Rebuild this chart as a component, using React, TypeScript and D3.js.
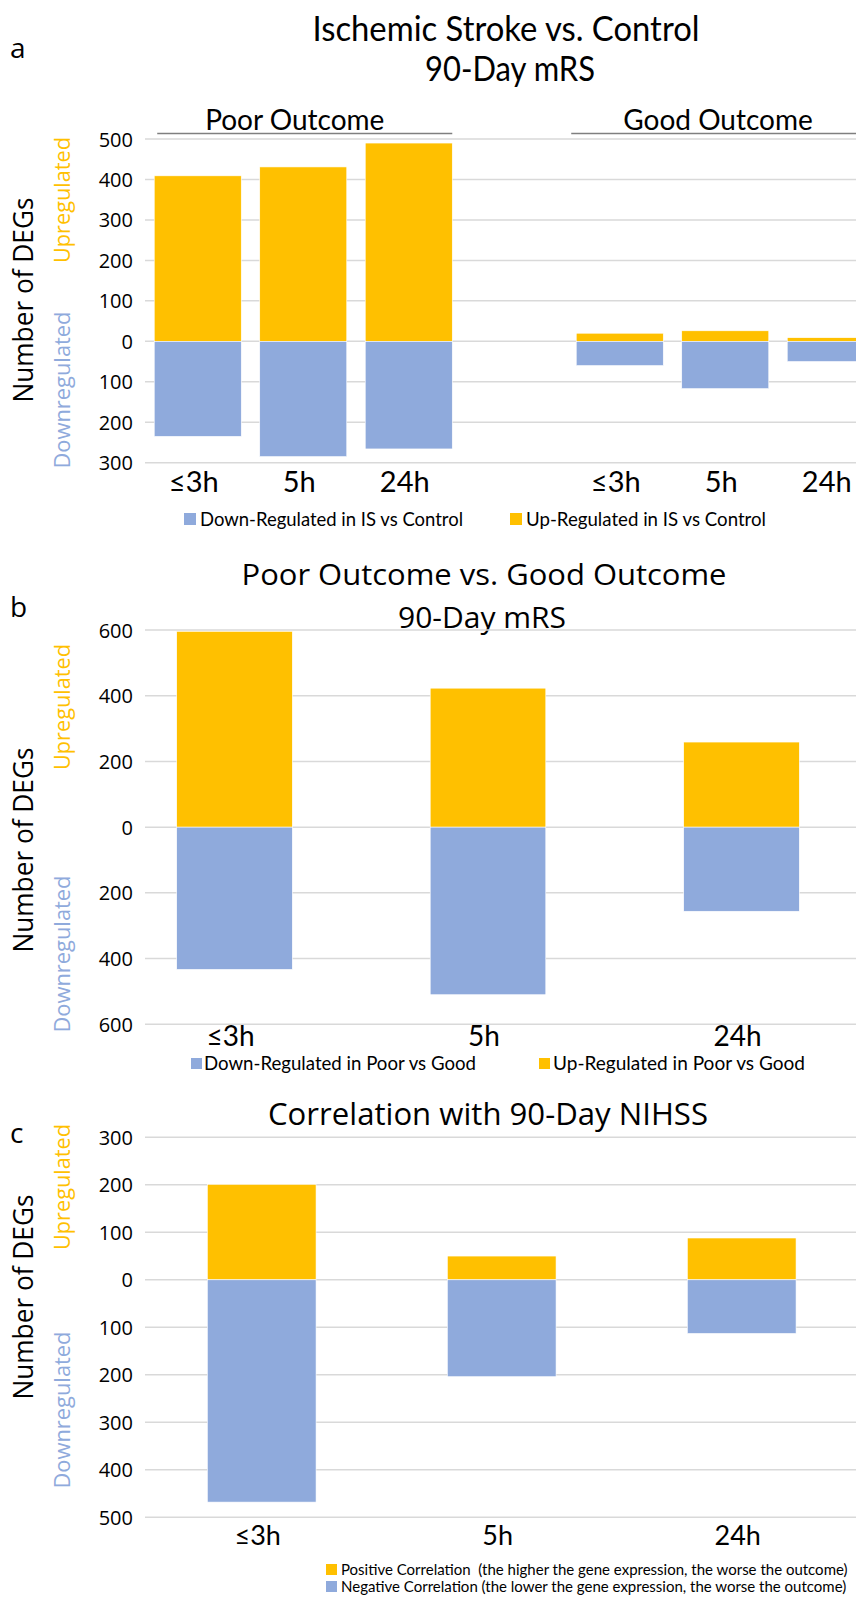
import React from "react";
import * as d3 from "d3";

// ---------- data ----------
const timepoints = ["≤3h", "5h", "24h"];
const aGroups = ["Poor Outcome", "Good Outcome"];
const aPoorUp = [409, 431, 490];
const aPoorDown = [235, 285, 266];
const aGoodUp = [20, 26, 9];
const aGoodDown = [60, 117, 50];
const aTicks = [-300, -200, -100, 0, 100, 200, 300, 400, 500];

const bUp = [596, 423, 259];
const bDown = [433, 510, 256];
const bTicks = [-600, -400, -200, 0, 200, 400, 600];

const cUp = [201, 50, 88];
const cDown = [468, 204, 113];
const cTicks = [-500, -400, -300, -200, -100, 0, 100, 200, 300];

const titleA = ["Ischemic Stroke vs. Control", "90-Day mRS"];
const titleB = ["Poor Outcome vs. Good Outcome", "90-Day mRS"];
const titleC = ["Correlation with 90-Day NIHSS"];
const legendA = ["Down-Regulated in IS vs Control", "Up-Regulated in IS vs Control"];
const legendB = ["Down-Regulated in Poor vs Good", "Up-Regulated in Poor vs Good"];
const legendC = [
  "Positive Correlation\u00A0 (the higher the gene expression, the worse the outcome)",
  "Negative Correlation (the lower the gene expression, the worse the outcome)",
];

// ---------- style ----------
const UP = "#FFC000";
const DOWN = "#8FAADC";
const GRID = "#D9D9D9";
const SEGOE = "'Open Sans', 'DejaVu Sans', sans-serif";
const CALIBRI = "Lato, 'Open Sans', sans-serif";
const W = 856;
const H = 1598;

function AxisTitles({ cx, cy, cyUp, cyDown }: { cx: number; cy: number; cyUp: number; cyDown: number }) {
  return (
    <g>
      <text transform={`translate(${cx},${cy}) rotate(-90)`} textAnchor="middle" dominantBaseline="central"
        fontFamily={SEGOE} fontSize={27} fill="#000" textLength={205} lengthAdjust="spacingAndGlyphs">Number of DEGs</text>
      <text transform={`translate(${cx + 40},${cyUp}) rotate(-90)`} textAnchor="middle" dominantBaseline="central"
        fontFamily={SEGOE} fontSize={21} fill={UP} textLength={126} lengthAdjust="spacingAndGlyphs">Upregulated</text>
      <text transform={`translate(${cx + 40},${cyDown}) rotate(-90)`} textAnchor="middle" dominantBaseline="central"
        fontFamily={SEGOE} fontSize={21} fill={DOWN} textLength={157} lengthAdjust="spacingAndGlyphs">Downregulated</text>
    </g>
  );
}

function Grid({ y, ticks, x0, x1, labelX }: { y: d3.ScaleLinear<number, number>; ticks: number[]; x0: number; x1: number; labelX: number }) {
  return (
    <g>
      {ticks.map((t) => (
        <g key={t}>
          <line x1={x0} x2={x1} y1={y(t)} y2={y(t)} stroke={GRID} strokeWidth={1.5} />
          <text x={labelX} y={y(t)} textAnchor="end" dominantBaseline="central" fontFamily={SEGOE} fontSize={20} fill="#000">
            {Math.abs(t)}
          </text>
        </g>
      ))}
    </g>
  );
}

function StackBars({ x, y, keys, up, down }: { x: d3.ScaleBand<string>; y: d3.ScaleLinear<number, number>; keys: string[]; up: number[]; down: number[] }) {
  return (
    <g>
      {keys.map((k, i) => (
        <g key={k}>
          <rect x={x(k)} width={x.bandwidth()} y={y(up[i])} height={y(0) - y(up[i])} fill={UP} stroke="#fff" strokeWidth={0.6} />
          <rect x={x(k)} width={x.bandwidth()} y={y(0)} height={y(-down[i]) - y(0)} fill={DOWN} stroke="#fff" strokeWidth={0.6} />
        </g>
      ))}
    </g>
  );
}

function CatLabels({ x, keys, labels, baseline, size }: { x: d3.ScaleBand<string>; keys: string[]; labels: string[]; baseline: number; size: number }) {
  return (
    <g>
      {keys.map((k, i) => (
        <text key={k} x={(x(k) as number) + x.bandwidth() / 2 - 4} y={baseline} textAnchor="middle"
          fontFamily={CALIBRI} fontSize={size} fill="#000">{labels[i]}</text>
      ))}
    </g>
  );
}

export default function App() {
  // ----- panel a -----
  const aSlots = ["P0", "P1", "P2", "gap", "G0", "G1", "G2"];
  const xA = d3.scaleBand<string>().domain(aSlots).range([145, 883.5]).paddingInner(0.175).paddingOuter(0.0875);
  const yA = d3.scaleLinear().domain([-300, 500]).range([462.7, 139]);
  const poorKeys = aSlots.slice(0, 3);
  const goodKeys = aSlots.slice(4);

  // ----- panel b -----
  const xB = d3.scaleBand<string>().domain(timepoints).range([107.75, 868.25]).paddingInner(0.544).paddingOuter(0.272);
  const yB = d3.scaleLinear().domain([-600, 600]).range([1024.3, 630]);

  // ----- panel c -----
  const xC = d3.scaleBand<string>().domain(timepoints).range([141.7, 861.7]).paddingInner(0.547).paddingOuter(0.2735);
  const yC = d3.scaleLinear().domain([-500, 300]).range([1517.3, 1137.3]);

  const groupLine = (keys: string[]) => {
    const a = xA(keys[0]) as number;
    const b = (xA(keys[keys.length - 1]) as number) + xA.bandwidth();
    return [a + 3, b];
  };
  const [pl0, pl1] = groupLine(poorKeys);
  const [gl0, gl1] = groupLine(goodKeys);

  return (
    <svg width={W} height={H} viewBox={`0 0 ${W} ${H}`}
      style={{ position: "absolute", left: 0, top: 0, background: "#fff", display: "block" }}>
      <rect width={W} height={H} fill="#fff" />

      {/* ================= panel a ================= */}
      <text x={10} y={58} fontFamily={SEGOE} fontSize={28} fill="#000">a</text>
      <text x={506} y={41} textAnchor="middle" fontFamily={CALIBRI} fontSize={34} textLength={387} lengthAdjust="spacingAndGlyphs">{titleA[0]}</text>
      <text x={510} y={81} textAnchor="middle" fontFamily={CALIBRI} fontSize={34} textLength={170} lengthAdjust="spacingAndGlyphs">{titleA[1]}</text>

      <Grid y={yA} ticks={aTicks} x0={145} x1={W} labelX={133} />
      <StackBars x={xA} y={yA} keys={poorKeys} up={aPoorUp} down={aPoorDown} />
      <StackBars x={xA} y={yA} keys={goodKeys} up={aGoodUp} down={aGoodDown} />

      <line x1={pl0} x2={pl1} y1={133.5} y2={133.5} stroke="#7F7F7F" strokeWidth={1.5} />
      <line x1={gl0 - 8} x2={gl1} y1={133.5} y2={133.5} stroke="#7F7F7F" strokeWidth={1.5} />
      <text x={(pl0 + pl1) / 2 - 10} y={130} textAnchor="middle" fontFamily={CALIBRI} fontSize={28}>{aGroups[0]}</text>
      <text x={718} y={130} textAnchor="middle" fontFamily={CALIBRI} fontSize={28}>{aGroups[1]}</text>

      <CatLabels x={xA} keys={poorKeys} labels={timepoints} baseline={492} size={29} />
      <CatLabels x={xA} keys={goodKeys} labels={timepoints} baseline={492} size={29} />

      <AxisTitles cx={22} cy={300} cyUp={200} cyDown={390} />

      <rect x={184} y={513} width={12} height={12} fill={DOWN} />
      <text x={200} y={526} fontFamily={CALIBRI} fontSize={20} textLength={263} lengthAdjust="spacingAndGlyphs">{legendA[0]}</text>
      <rect x={510} y={513} width={12} height={12} fill={UP} />
      <text x={526} y={526} fontFamily={CALIBRI} fontSize={20} textLength={240} lengthAdjust="spacingAndGlyphs">{legendA[1]}</text>

      {/* ================= panel b ================= */}
      <text x={10} y={617} fontFamily={SEGOE} fontSize={28} fill="#000">b</text>
      <text x={484} y={585} textAnchor="middle" fontFamily={SEGOE} fontSize={30} textLength={485} lengthAdjust="spacingAndGlyphs">{titleB[0]}</text>
      <text x={482} y={628} textAnchor="middle" fontFamily={SEGOE} fontSize={30}>{titleB[1]}</text>

      <Grid y={yB} ticks={bTicks} x0={145} x1={W} labelX={133} />
      <StackBars x={xB} y={yB} keys={timepoints} up={bUp} down={bDown} />
      <CatLabels x={xB} keys={timepoints} labels={timepoints} baseline={1046} size={28} />

      <AxisTitles cx={22} cy={850} cyUp={707} cyDown={954} />

      <rect x={191} y={1058} width={11} height={11} fill={DOWN} />
      <text x={204} y={1070} fontFamily={CALIBRI} fontSize={20} textLength={272} lengthAdjust="spacingAndGlyphs">{legendB[0]}</text>
      <rect x={539} y={1058} width={11} height={11} fill={UP} />
      <text x={553} y={1070} fontFamily={CALIBRI} fontSize={20} textLength={252} lengthAdjust="spacingAndGlyphs">{legendB[1]}</text>

      {/* ================= panel c ================= */}
      <text x={10} y={1143} fontFamily={SEGOE} fontSize={28} fill="#000">c</text>
      <text x={488} y={1125} textAnchor="middle" fontFamily={SEGOE} fontSize={31} textLength={440} lengthAdjust="spacingAndGlyphs">{titleC[0]}</text>

      <Grid y={yC} ticks={cTicks} x0={145} x1={W} labelX={133} />
      <StackBars x={xC} y={yC} keys={timepoints} up={cUp} down={cDown} />
      <CatLabels x={xC} keys={timepoints} labels={timepoints} baseline={1545} size={27} />

      <AxisTitles cx={22} cy={1297} cyUp={1187} cyDown={1410} />

      <rect x={326} y={1564} width={11} height={11} fill={UP} />
      <text x={341} y={1575} fontFamily={CALIBRI} fontSize={15}>{legendC[0]}</text>
      <rect x={326} y={1581} width={11} height={11} fill={DOWN} />
      <text x={341} y={1592} fontFamily={CALIBRI} fontSize={15}>{legendC[1]}</text>
    </svg>
  );
}
